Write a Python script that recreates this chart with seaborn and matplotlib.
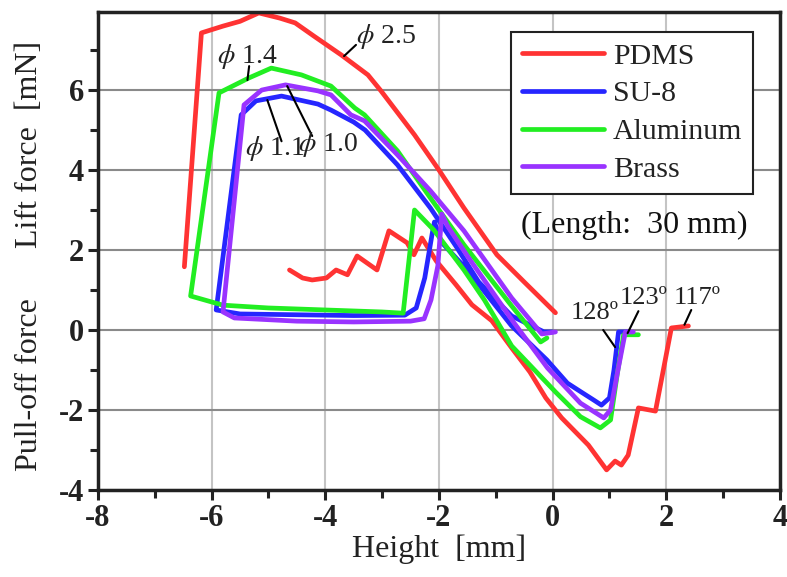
import seaborn as sns
import matplotlib.pyplot as plt
import pandas as pd
import numpy as np
from matplotlib.ticker import MultipleLocator

sns.set_style("white")
plt.rcParams['font.family'] = ['Liberation Serif', 'DejaVu Serif']
plt.rcParams['mathtext.fontset'] = 'stix'
plt.rcParams['axes.unicode_minus'] = False

# PDMS: lift branch and pull-off branch
pdms_lift_x = [-6.48, -6.18, -5.8, -5.5, -5.17, -4.8, -4.53, -4.2, -3.72, -3.25, -3.02,
               -2.43, -2.0, -1.56, -0.98, -0.5, 0.05]
pdms_lift_y = [1.58, 7.43, 7.6, 7.72, 7.93, 7.8, 7.68, 7.35, 6.88, 6.38, 5.98,
               4.88, 4.0, 3.05, 1.88, 1.2, 0.43]
pdms_pull_x = [-4.63, -4.4, -4.23, -3.98, -3.81, -3.61, -3.44, -3.09, -2.88, -2.56, -2.44,
               -2.3, -2.05, -1.7, -1.42, -1.07, -0.72, -0.4, -0.12, 0.16, 0.63, 0.95,
               1.1, 1.21, 1.33, 1.51, 1.81, 2.09, 2.39]
pdms_pull_y = [1.5, 1.3, 1.25, 1.3, 1.5, 1.38, 1.85, 1.5, 2.48, 2.18, 1.88,
               2.3, 1.73, 1.13, 0.63, 0.23, -0.45, -1.05, -1.7, -2.2, -2.88, -3.5,
               -3.28, -3.38, -3.13, -1.95, -2.03, 0.05, 0.1]

# SU-8: from end of lift branch back to start, then the pull-off branch
su8_x = [0.0, -0.15, -0.72, -1.3, -1.68, -2.15, -2.73, -3.3, -3.5, -3.9, -4.13, -4.77,
         -5.22, -5.48, -5.92, -5.5, -4.5, -3.5, -2.6, -2.4, -2.25, -2.12, -2.08, -1.96,
         -1.5, -0.72, -0.1, 0.26, 0.5, 0.72, 0.86, 1.0, 1.08, 1.16, 1.33]
su8_y = [-0.05, -0.05, 0.35, 1.2, 2.05, 3.05, 4.13, 5.0, 5.2, 5.5, 5.65, 5.85,
         5.73, 5.38, 0.5, 0.4, 0.38, 0.36, 0.37, 0.55, 1.3, 2.4, 2.7, 2.2,
         1.5, 0.1, -0.75, -1.33, -1.55, -1.75, -1.88, -1.7, -1.0, -0.05, -0.05]

# Aluminum
al_x = [-0.1, -0.21, -0.72, -1.56, -2.15, -2.73, -3.31, -3.48, -3.9, -4.42, -4.95,
        -5.35, -5.87, -6.37, -6.0, -5.8, -5.0, -4.0, -3.0, -2.63, -2.43, -2.09,
        -1.56, -1.2, -0.72, 0.05, 0.49, 0.84, 1.02, 1.14, 1.25, 1.51]
al_y = [-0.2, -0.3, 0.6, 2.13, 3.3, 4.48, 5.38, 5.55, 6.1, 6.38, 6.55,
        6.3, 5.93, 0.85, 0.7, 0.62, 0.55, 0.5, 0.45, 0.42, 3.0, 2.5,
        1.5, 0.75, -0.4, -1.55, -2.17, -2.45, -2.25, -1.08, -0.12, -0.12]

# Brass
br_x = [0.05, -0.19, -0.72, -1.56, -2.15, -2.73, -3.31, -3.55, -3.9, -4.13, -4.7,
        -5.12, -5.43, -5.8, -5.6, -4.5, -3.5, -2.5, -2.26, -2.14, -2.02, -1.95,
        -1.85, -1.49, -0.68, -0.09, 0.49, 0.9, 1.02, 1.15, 1.28, 1.42]
br_y = [-0.05, -0.1, 0.8, 2.48, 3.48, 4.38, 5.23, 5.38, 5.88, 5.98, 6.13,
        6.0, 5.63, 0.45, 0.3, 0.22, 0.2, 0.22, 0.28, 0.75, 1.6, 2.9,
        2.6, 1.83, 0.18, -0.95, -1.83, -2.2, -2.0, -1.0, -0.05, -0.05]

materials = ['PDMS', 'SU-8', 'Aluminum', 'Brass']
colors = ['#ff3333', '#2626ff', '#22ee22', '#9933ff']

frames = []
for name, seg, xs, ys in [('PDMS', 'pdms-a', pdms_lift_x, pdms_lift_y),
                          ('PDMS', 'pdms-b', pdms_pull_x, pdms_pull_y),
                          ('SU-8', 'su8', su8_x, su8_y),
                          ('Aluminum', 'al', al_x, al_y),
                          ('Brass', 'br', br_x, br_y)]:
    frames.append(pd.DataFrame({'height': xs, 'force': ys, 'material': name, 'seg': seg}))
data = pd.concat(frames, ignore_index=True)

# annotations: text, text position, leader line start/end
ann_text = [r'$\phi$ 2.5', r'$\phi$ 1.4', r'$\phi$ 1.1', r'$\phi$ 1.0', '128º', '123º', '117º']
ann_size = [20, 20, 20, 20, 19, 19, 19]
ann_pos = [(-2.93, 7.33), (-5.37, 6.85), (-4.89, 4.53), (-3.96, 4.63),
           (0.74, 0.43), (1.6, 0.8), (2.54, 0.8)]
ann_line = [((-3.67, 6.85), (-3.46, 7.13)), ((-5.37, 6.25), (-5.34, 6.6)),
            ((-5.02, 5.75), (-4.77, 4.72)), ((-4.67, 6.1), (-4.23, 4.85)),
            ((0.89, 0.0), (1.1, -0.43)), ((1.51, 0.47), (1.32, -0.08)),
            ((2.44, 0.5), (2.32, 0.13))]

fig, ax = plt.subplots(figsize=(7.87, 5.77), dpi=100)
fig.subplots_adjust(left=0.1245, right=0.991, top=0.979, bottom=0.151)

sns.lineplot(data=data, x='height', y='force', hue='material', hue_order=materials,
             palette=colors, units='seg', estimator=None, sort=False,
             linewidth=3.4, ax=ax)

ax.set_xlim(-8, 4)
ax.set_ylim(-4, 7.95)
ax.xaxis.set_major_locator(MultipleLocator(2))
ax.xaxis.set_minor_locator(MultipleLocator(1))
ax.yaxis.set_major_locator(MultipleLocator(2))
ax.yaxis.set_minor_locator(MultipleLocator(1))
ax.grid(axis='y', which='major', color='#8a8a8a', linewidth=1.5)
ax.grid(axis='x', which='major', color='#c4c4c4', linewidth=1.5)
ax.set_axisbelow(True)
for sp in ax.spines.values():
    sp.set_color('#222222')
    sp.set_linewidth(2.5)
ax.tick_params(which='both', direction='out', color='#222222', width=2.2,
               left=True, bottom=True)
ax.tick_params(which='major', length=7, pad=3, labelsize=22, labelcolor='#222222')
ax.tick_params(which='minor', length=6)
for lab in ax.get_xticklabels() + ax.get_yticklabels():
    lab.set_fontweight('bold')

ax.set_xlabel('Height  [mm]', fontsize=23, color='#222222', labelpad=1)
ax.set_ylabel('')
ax.text(-0.1, 0.722, 'Lift force  [mN]', transform=ax.transAxes, rotation=90,
        ha='center', va='center', fontsize=23, color='#222222')
ax.text(-0.1, 0.22, 'Pull-off force', transform=ax.transAxes, rotation=90,
        ha='center', va='center', fontsize=23, color='#222222')

for txt, size, pos, (p0, p1) in zip(ann_text, ann_size, ann_pos, ann_line):
    ax.annotate('', xy=p1, xytext=p0,
                arrowprops=dict(arrowstyle='-', color='black', lw=1.5,
                                shrinkA=0, shrinkB=0))
    ax.text(pos[0], pos[1], txt, ha='center', va='center', fontsize=size, color='#222222')

handles, labels = ax.get_legend_handles_labels()
leg = ax.legend(handles, labels, loc='upper right', bbox_to_anchor=(0.9604, 0.958),
                borderaxespad=0, fontsize=21.5, handlelength=2.75, labelspacing=0.36,
                handletextpad=0.3, fancybox=False, framealpha=1, edgecolor='#222222',
                borderpad=0.36)
leg.get_frame().set_linewidth(1.5)
for t in leg.get_texts():
    t.set_color('#222222')

ax.text(0.787, 0.553, '(Length:  30 mm)', transform=ax.transAxes, ha='center',
        va='center', fontsize=23, color='#111111')

plt.savefig('out.png', dpi=100)
plt.close()
